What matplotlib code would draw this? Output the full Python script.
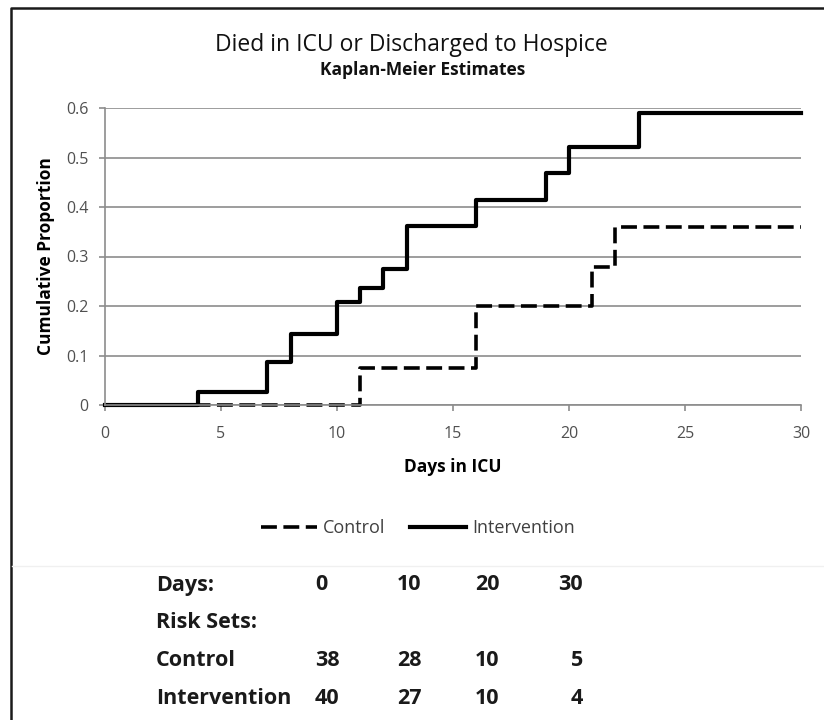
import matplotlib
matplotlib.use('Agg')
import matplotlib.pyplot as plt
from matplotlib.lines import Line2D

# Kaplan-Meier step values
ctrl_days = [0, 11, 16, 21, 22, 30]
ctrl_prop = [0, 0.075, 0.200, 0.278, 0.359, 0.359]

int_days = [0, 4, 7, 8, 10, 11, 12, 13, 16, 19, 20, 23, 30]
int_prop = [0, 0.027, 0.086, 0.144, 0.209, 0.237, 0.275, 0.361, 0.414, 0.469, 0.521, 0.590, 0.590]

# risk table
risk_days = [0, 10, 20, 30]
risk_control = [38, 28, 10, 5]
risk_intervention = [40, 27, 10, 4]

plt.rcParams['font.family'] = ['Open Sans', 'DejaVu Sans']

W, H = 824, 720
fig = plt.figure(figsize=(W / 100, H / 100), dpi=100)
fig.patch.set_facecolor('white')


def fx(x):
    return x / W


def fy(y):
    return 1 - y / H


ax = fig.add_axes([fx(105), fy(405), fx(801) - fx(105), fy(108) - fy(405)])

grey = '#8c8c8c'
ax.set_xlim(0, 30)
ax.set_ylim(0, 0.6)
ax.set_yticks([0, 0.1, 0.2, 0.3, 0.4, 0.5, 0.6])
ax.set_yticklabels(['0', '0.1', '0.2', '0.3', '0.4', '0.5', '0.6'])
ax.set_xticks([0, 5, 10, 15, 20, 25, 30])
ax.grid(axis='y', color=grey, linewidth=1.2)
ax.set_axisbelow(True)
for s in ['top', 'right']:
    ax.spines[s].set_visible(False)
for s in ['left', 'bottom']:
    ax.spines[s].set_color(grey)
    ax.spines[s].set_linewidth(1.2)
ax.tick_params(axis='y', length=4, width=1.2, color=grey, pad=8,
               labelsize=11.5, labelcolor='#505050')
ax.tick_params(axis='x', length=4, width=1.2, color=grey, pad=11,
               labelsize=11.5, labelcolor='#505050')

ax.plot(ctrl_days, ctrl_prop, drawstyle='steps-post', color='black',
        linewidth=2.6, linestyle=(0, (4.4, 1.8)), label='Control', clip_on=False)
ax.plot(int_days, int_prop, drawstyle='steps-post', color='black',
        linewidth=3.0, label='Intervention', clip_on=False)

ax.set_xlabel('Days in ICU', fontsize=12.5, fontweight='bold', labelpad=12)
ax.set_ylabel('Cumulative Proportion', fontsize=12.5, fontweight='bold', labelpad=8)

fig.text(fx(411), fy(45), 'Died in ICU or Discharged to Hospice', ha='center',
         va='center', fontsize=16.5, color='#111111')
fig.text(fx(423), fy(70), 'Kaplan-Meier Estimates', ha='center', va='center',
         fontsize=12.5, fontweight='bold', color='#111111')

leg = fig.legend(loc='center', bbox_to_anchor=(fx(418), fy(528)), ncol=2,
                 frameon=False, fontsize=13, handlelength=3.1,
                 handletextpad=0.3, columnspacing=1.4)
for t in leg.get_texts():
    t.set_color('#404040')

# frame and separator
fig.add_artist(Line2D([fx(11), fx(11), fx(W)], [0, fy(8), fy(8)],
                      transform=fig.transFigure, color='#1a1a1a', linewidth=1.8))
fig.add_artist(Line2D([fx(12), fx(W)], [fy(566), fy(566)],
                      transform=fig.transFigure, color='#f0f0f0', linewidth=1))

# risk set table
row_y = [585, 623, 660, 698]
col_x = [315, 397, 475, 583]
tkw = dict(fontsize=15.5, fontweight='bold', va='center', color='#1a1a1a')
fig.text(fx(156), fy(row_y[0]), 'Days:', **tkw)
fig.text(fx(156), fy(row_y[1]), 'Risk Sets:', **tkw)
fig.text(fx(156), fy(row_y[2]), 'Control', **tkw)
fig.text(fx(156), fy(row_y[3]), 'Intervention', **tkw)
for i, (d, c, n) in enumerate(zip(risk_days, risk_control, risk_intervention)):
    ha = 'right' if i == len(risk_days) - 1 else 'left'
    fig.text(fx(col_x[i]), fy(row_y[0]), str(d), ha=ha, **tkw)
    fig.text(fx(col_x[i]), fy(row_y[2]), str(c), ha=ha, **tkw)
    fig.text(fx(col_x[i]), fy(row_y[3]), str(n), ha=ha, **tkw)

fig.savefig('out.png', dpi=100)
